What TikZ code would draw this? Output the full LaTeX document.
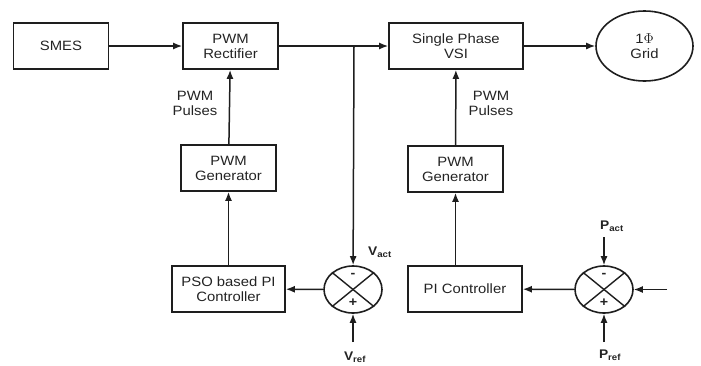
\documentclass[tikz,border=0pt]{standalone}
\usepackage{fontspec}
\setmainfont{Liberation Sans}[FakeStretch=1.1]
\usetikzlibrary{shapes,arrows.meta,positioning,calc}
\definecolor{bordercolor}{RGB}{30,30,30}
\definecolor{labelcolor}{RGB}{35,35,35}
\tikzset{
    block/.style={
        rectangle,
        minimum width=95pt,
        minimum height=46pt,
        text centered,
        align=center,
        draw=bordercolor,
        line width=1.7pt,
        text=labelcolor,
        font=\fontsize{13.5}{15}\selectfont
    },
    sumjunction/.style={
        ellipse,
        minimum width=58pt,
        minimum height=47pt,
        inner sep=0pt,
        draw=bordercolor,
        line width=1.6pt
    },
    gridnode/.style={
        ellipse,
        minimum width=97pt,
        minimum height=70pt,
        align=center,
        draw=bordercolor,
        line width=1.6pt,
        text=labelcolor,
        font=\fontsize{13.5}{15}\selectfont
    },
    note/.style={align=center, text=labelcolor, font=\fontsize{13.5}{15}\selectfont},
    signal/.style={text=labelcolor, font=\fontsize{12.5}{14}\selectfont\bfseries},
    arrow/.style={-{Latex[length=9pt,width=7pt]}, line width=1.5pt, color=bordercolor}
}

\begin{document}
\begin{tikzpicture}[x=1pt, y=-1pt]
    \useasboundingbox (0,0) rectangle (701,365);

    % Power path
    \node[block] (smes) at (61,46) {SMES};
    \node[block] (rect) at (230.5,46) {PWM\\Rectifier};
    \node[block, minimum width=134pt] (vsi) at (456,46) {Single Phase\\VSI};
    \node[gridnode] (grid) at (644.5,46) {1$\Phi$\\Grid};
    \coordinate (dclink) at (354,46);

    % Rectifier control
    \node[note] (pulsesA) at (195,103) {PWM\\Pulses};
    \node[block] (genA) at (228.5,168) {PWM\\Generator};
    \node[block, minimum width=113pt] (pso) at (228.5,289) {PSO based PI\\Controller};
    \node[sumjunction] (sumA) at (353,289.5) {};
    \node[signal] (vact) at (380,252) {V\textsubscript{act}};
    \node[signal] (vref) at (355,357) {V\textsubscript{ref}};
    \coordinate (vrefin) at (353,342);

    % Inverter control
    \node[note] (pulsesB) at (491,103) {PWM\\Pulses};
    \node[block] (genB) at (455.5,169) {PWM\\Generator};
    \node[block, minimum width=114pt] (pi) at (465,289) {PI Controller};
    \node[sumjunction] (sumB) at (604,289.5) {};
    \node[signal] (pact) at (612,226) {P\textsubscript{act}};
    \node[signal] (pref) at (610,355) {P\textsubscript{ref}};
    \coordinate (pactin) at (604,237);
    \coordinate (prefin) at (604,342);
    \coordinate (sidein) at (667,289.5);

    % Summing junction marks
    \foreach \s in {sumA,sumB}{
        \draw[line width=1.4pt, bordercolor] (\s.north west) -- (\s.south east);
        \draw[line width=1.4pt, bordercolor] (\s.north east) -- (\s.south west);
        \node[font=\bfseries\fontsize{13}{13}\selectfont, text=labelcolor] at ($(\s)+(0,-14)$) {-};
        \node[font=\bfseries\fontsize{13}{13}\selectfont, text=labelcolor] at ($(\s)+(0,13)$) {+};
    }

    % Arrows
    \draw[arrow] (smes) -- (rect);
    \draw[arrow] (rect) -- (vsi);
    \draw[arrow] (vsi) -- (grid);
    \draw[arrow] (dclink) -- (sumA);
    \draw[arrow] (vrefin) -- (sumA);
    \draw[arrow] (sumA) -- (pso);
    \draw[arrow] (pso) -- (genA);
    \draw[arrow] (genA) -- (rect);
    \draw[arrow] (pactin) -- (sumB);
    \draw[arrow] (prefin) -- (sumB);
    \draw[arrow] (sidein) -- (sumB);
    \draw[arrow] (sumB) -- (pi);
    \draw[arrow] (pi.north -| genB) -- (genB);
    \draw[arrow] (genB) -- (vsi);
\end{tikzpicture}
\end{document}
